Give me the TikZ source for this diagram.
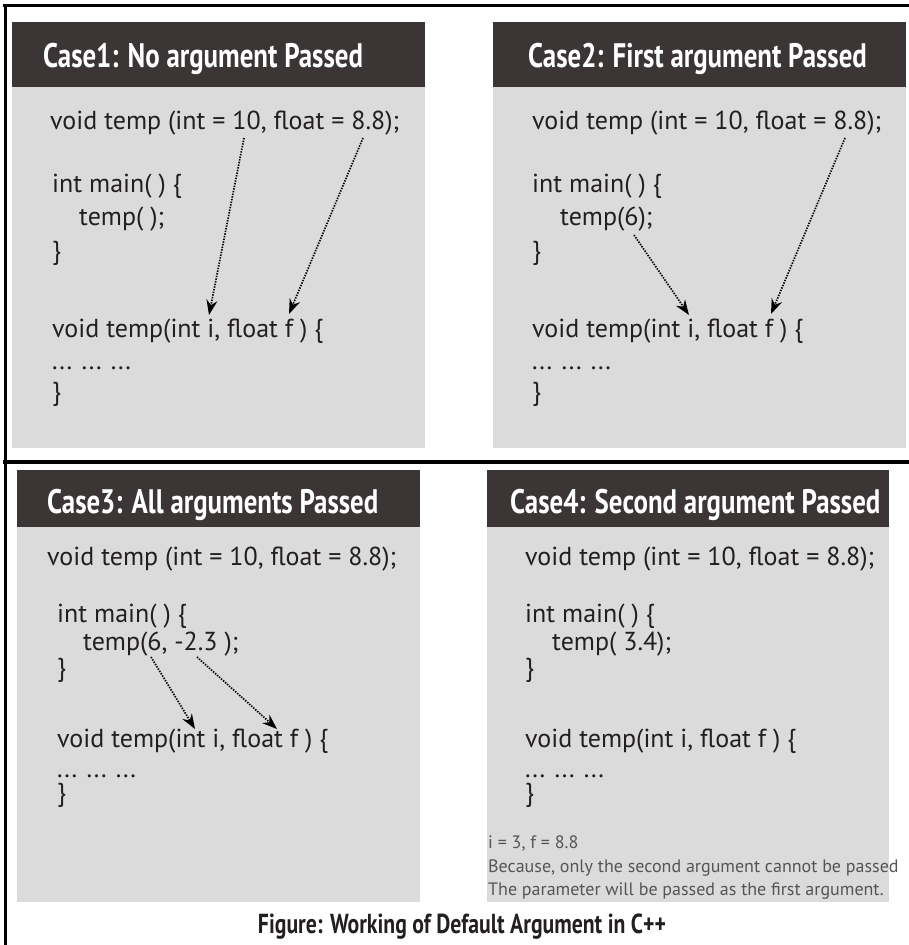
\documentclass[tikz,border=0pt]{standalone}
\usepackage{fontspec}
\setmainfont{PT Sans}
\newfontfamily\headfont[FakeStretch=0.79]{PT Sans}
\usetikzlibrary{arrows.meta}

\definecolor{headbg}{HTML}{3B3536}
\definecolor{bodybg}{HTML}{DCDBDB}
\definecolor{inkcol}{HTML}{231F20}
\definecolor{notecol}{HTML}{555555}

\begin{document}
\begin{tikzpicture}[x=1pt, y=-1pt, >=Stealth,
  headtext/.style={anchor=base west, inner sep=0pt, text=white,
    font=\headfont\bfseries\fontsize{34}{38}\selectfont},
  codeline/.style={anchor=base west, inner sep=0pt, text=inkcol,
    font=\fontsize{26}{30}\selectfont},
  noteline/.style={anchor=base west, inner sep=0pt, text=notecol,
    font=\fontsize{18}{20}\selectfont},
  passarrow/.style={line width=1.7pt, dash pattern=on 1.4pt off 1.3pt,
    -{Stealth[length=15pt, width=11pt]}}]
  \useasboundingbox (0,0) rectangle (909,945);
  \fill[white] (0,0) rectangle (909,945);

  % Panels: header bar and code area
  \foreach \xa/\ya/\xb/\yh/\yb in {12/22/425/87/448, 493/22/906/87/448,
                                   17/470/420/527/902, 487/470/889/527/902}{
    \fill[bodybg] (\xa,\yh) rectangle (\xb,\yb);
    \fill[headbg] (\xa,\ya) rectangle (\xb,\yh);
  }

  % Frame lines
  \draw[line width=3pt] (3,5) -- (909,5);
  \draw[line width=3pt] (5,4) -- (5,945);
  \draw[line width=4pt] (3,462) -- (909,462);

  % Headers
  \node[headtext] (head1) at (43,67)  {Case1: No argument Passed};
  \node[headtext] (head2) at (528,67) {Case2: First argument Passed};
  \node[headtext] (head3) at (47,513) {Case3: All arguments Passed};
  \node[headtext] (head4) at (510,513) {Case4: Second argument Passed};

  % Code common to every case
  \foreach \n/\xd/\xm/\yd/\ym/\yc/\ydef/\ydots/\yend in {
    1/50/52/129/192/259/337/369/400,
    2/532/532/129/192/259/337/369/400,
    3/47/57/565/622/676/747/777/801,
    4/525/525/565/622/676/747/777/801}{
    \node[codeline] (decl\n) at (\xd,\yd) {void temp (int = 10, float = 8.8);};
    \node[codeline] (main\n) at (\xm,\ym) {int main( ) \{};
    \node[codeline] (close\n) at (\xm,\yc) {\}};
    \node[codeline] (def\n) at (\xm,\ydef) {void temp(int i, float f ) \{};
    \node[codeline] (dots\n) at (\xm,\ydots) {... ... ...};
    \node[codeline] (end\n) at (\xm,\yend) {\}};
  }

  % Calls
  \node[codeline] (call1) at (79,225)  {temp( );};
  \node[codeline] (call2) at (560,225) {temp(6);};
  \node[codeline] (call3) at (83,650)  {temp(6, -2.3 );};
  \node[codeline] (call4) at (552,650) {temp( 3.4);};

  % Note under case 4
  \node[noteline] (note1) at (488,848) {i = 3, f = 8.8};
  \node[noteline] (note2) at (488,872) {Because, only the second argument cannot be passed};
  \node[noteline] (note3) at (488,895) {The parameter will be passed as the first argument.};

  % Caption
  \node[anchor=base, inner sep=0pt, text=inkcol,
    font=\headfont\bfseries\fontsize{27.5}{30}\selectfont] (caption) at (462,933)
    {Figure: Working of Default Argument in C++};

  % Where each value goes
  \coordinate (tenA) at (244,138);  \coordinate (iA) at (209,315);
  \coordinate (eightA) at (363,138); \coordinate (fA) at (289,314);
  \coordinate (sixB) at (634,235);  \coordinate (iB) at (689,315);
  \coordinate (eightB) at (845,138); \coordinate (fB) at (771,314);
  \coordinate (sixC) at (151,657);  \coordinate (iC) at (195,729);
  \coordinate (minusC) at (197,657); \coordinate (fC) at (277,729);

  \draw[passarrow] (tenA) -- (iA);
  \draw[passarrow] (eightA) -- (fA);
  \draw[passarrow] (sixB) -- (iB);
  \draw[passarrow] (eightB) -- (fB);
  \draw[passarrow] (sixC) -- (iC);
  \draw[passarrow] (minusC) -- (fC);
\end{tikzpicture}
\end{document}
